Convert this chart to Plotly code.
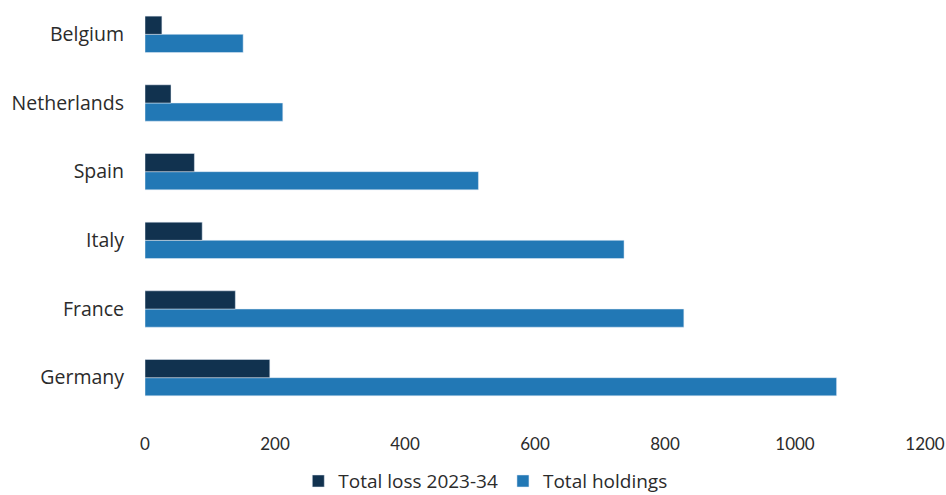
import plotly.graph_objects as go

countries = ["Germany", "France", "Italy", "Spain", "Netherlands", "Belgium"]
total_loss = [192, 139, 88, 76, 40, 26]
total_holdings = [1064, 829, 737, 513, 212, 151]
x_ticks = [0, 200, 400, 600, 800, 1000, 1200]

LOSS_COLOR = "#11324f"
HOLD_COLOR = "#2278b5"
TEXT_COLOR = "#2b2b2b"

fig = go.Figure()
# Holdings trace first so the loss bar sits above it within each group
fig.add_trace(go.Bar(
    y=countries, x=total_holdings, orientation="h",
    name="Total holdings", marker_color=HOLD_COLOR, legendrank=2,
))
fig.add_trace(go.Bar(
    y=countries, x=total_loss, orientation="h",
    name="Total loss 2023-34", marker_color=LOSS_COLOR, legendrank=1,
))

fig.update_layout(
    width=946, height=495,
    margin=dict(l=145, r=21, t=0, b=83),
    barmode="group", bargap=0.47, bargroupgap=0,
    plot_bgcolor="white", paper_bgcolor="white",
    font=dict(family="Open Sans", size=19.5, color=TEXT_COLOR),
    showlegend=True,
    legend=dict(orientation="h", xref="container", x=0.513, xanchor="center",
                yref="container", y=0.028, yanchor="middle",
                font=dict(family="Open Sans", size=19), itemwidth=30,
                tracegroupgap=0),
    xaxis=dict(range=[0, 1200], tickvals=x_ticks, showgrid=False,
               zeroline=False, showline=False, ticks="",
               tickfont=dict(family="Lato", size=17, color=TEXT_COLOR),
               ticklabelstandoff=20),
    yaxis=dict(categoryorder="array", categoryarray=countries,
               showgrid=False, zeroline=False, showline=False, ticks="",
               ticklabelstandoff=20),
)

fig.write_html("out.html")
